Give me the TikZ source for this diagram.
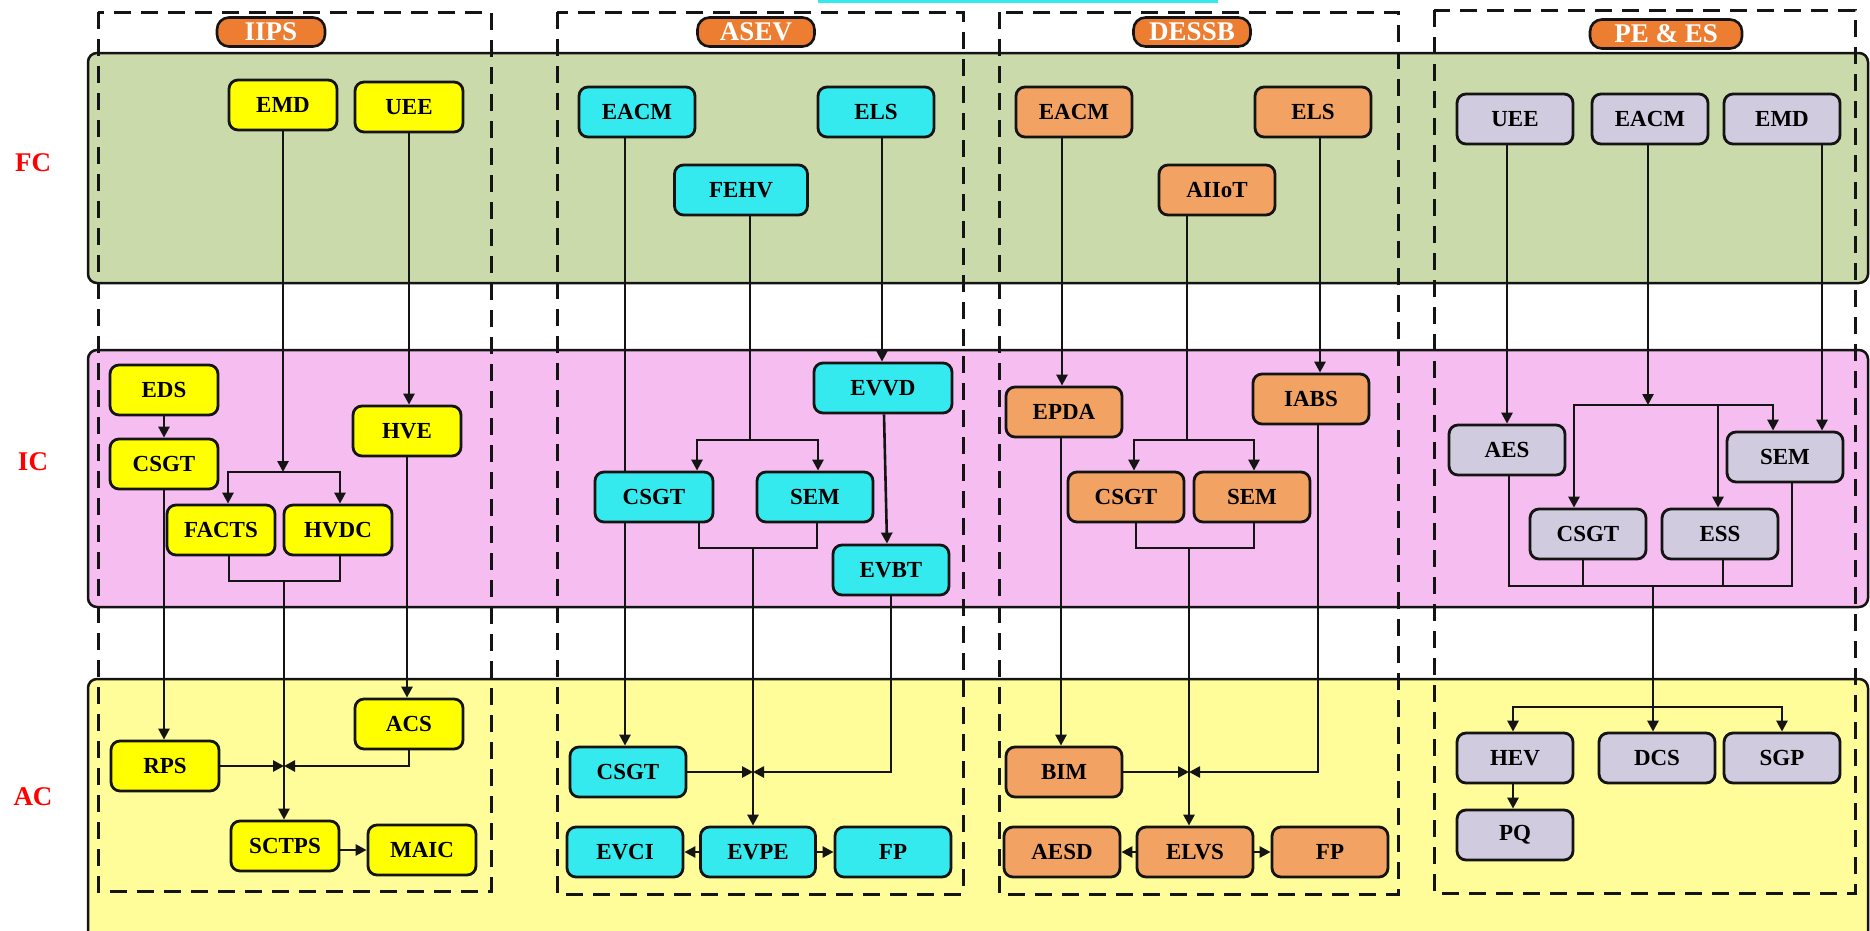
\documentclass[tikz,border=0pt]{standalone}
\usepackage{fontspec}
\setmainfont{Liberation Serif}
\usetikzlibrary{arrows.meta}
\definecolor{bandG}{RGB}{203,218,171}
\definecolor{bandP}{RGB}{245,189,240}
\definecolor{bandY}{RGB}{255,253,153}
\definecolor{nY}{RGB}{255,255,0}
\definecolor{nC}{RGB}{52,234,238}
\definecolor{nO}{RGB}{242,162,98}
\definecolor{nL}{RGB}{208,203,222}
\definecolor{hdr}{RGB}{237,125,49}
\definecolor{ink}{RGB}{20,20,20}
\pgfdeclarelayer{back}
\pgfdeclarelayer{mid}
\pgfsetlayers{back,mid,main}
\tikzset{
 box/.style={draw=ink, line width=2.8pt, rounded corners=9pt, minimum height=50pt, minimum width=116pt, inner sep=0pt, font=\fontsize{23}{23}\selectfont\bfseries},
 yb/.style={box, fill=nY, minimum width=108pt},
 cb/.style={box, fill=nC},
 ob/.style={box, fill=nO},
 lb/.style={box, fill=nL},
 hdrbox/.style={draw=ink, line width=2.6pt, fill=hdr, rounded corners=12pt, minimum height=29pt, inner sep=0pt, text=white, font=\fontsize{27}{27}\selectfont\bfseries},
 rowlab/.style={text=red, font=\fontsize{27}{27}\selectfont\bfseries},
 band/.style={draw=ink, line width=2.5pt, rounded corners=9pt},
 col/.style={draw=ink, line width=3pt, dash pattern=on 17pt off 10pt},
 con/.style={draw=ink, line width=2.6pt},
 arr/.style={con, -{Triangle[length=11pt,width=11pt]}},
}
\begin{document}
\begin{tikzpicture}[x=1pt,y=-1pt]
\useasboundingbox (0,0) rectangle (1870,930);

% headers
\node[hdrbox, minimum width=108pt] (hIIPS) at (271,32) {IIPS};
\node[hdrbox, minimum width=117pt] (hASEV) at (756,32) {ASEV};
\node[hdrbox, minimum width=117pt] (hDESSB) at (1192,32) {DESSB};
\node[hdrbox, minimum width=152pt] (hPE) at (1666,34) {PE \& ES};

% row labels
\node[rowlab] (FC) at (33,163) {FC};
\node[rowlab] (IC) at (33,462) {IC};
\node[rowlab] (AC) at (33,797) {AC};

% IIPS
\node[yb] (EMD1) at (283,105) {EMD};
\node[yb] (UEE1) at (409,107) {UEE};
\node[yb] (EDS1) at (164,390) {EDS};
\node[yb] (CSGT1) at (164,464) {CSGT};
\node[yb] (FACTS1) at (221,530) {FACTS};
\node[yb] (HVDC1) at (338,530) {HVDC};
\node[yb] (HVE1) at (407,431) {HVE};
\node[yb] (RPS1) at (165,766) {RPS};
\node[yb] (ACS1) at (409,724) {ACS};
\node[yb] (SCTPS1) at (285,846) {SCTPS};
\node[yb] (MAIC1) at (422,850) {MAIC};

% ASEV
\node[cb] (EACM2) at (637,112) {EACM};
\node[cb] (ELS2) at (876,112) {ELS};
\node[cb, minimum width=133pt] (FEHV2) at (741,190) {FEHV};
\node[cb, minimum width=138pt] (EVVD2) at (883,388) {EVVD};
\node[cb, minimum width=118pt] (CSGT2) at (654,497) {CSGT};
\node[cb] (SEM2) at (815,497) {SEM};
\node[cb] (EVBT2) at (891,570) {EVBT};
\node[cb] (CSGT3) at (628,772) {CSGT};
\node[cb] (EVCI2) at (625,852) {EVCI};
\node[cb, minimum width=115pt] (EVPE2) at (758,852) {EVPE};
\node[cb] (FP2) at (893,852) {FP};

% DESSB
\node[ob] (EACM3) at (1074,112) {EACM};
\node[ob] (ELS3) at (1313,112) {ELS};
\node[ob] (AIIOT3) at (1217,190) {AIIoT};
\node[ob] (EPDA3) at (1064,412) {EPDA};
\node[ob] (IABS3) at (1311,399) {IABS};
\node[ob] (CSGT4) at (1126,497) {CSGT};
\node[ob] (SEM3) at (1252,497) {SEM};
\node[ob] (BIM3) at (1064,772) {BIM};
\node[ob] (AESD3) at (1062,852) {AESD};
\node[ob] (ELVS3) at (1195,852) {ELVS};
\node[ob] (FP3) at (1330,852) {FP};

% PE & ES
\node[lb] (UEE4) at (1515,119) {UEE};
\node[lb] (EACM4) at (1650,119) {EACM};
\node[lb] (EMD4) at (1782,119) {EMD};
\node[lb] (AES4) at (1507,450) {AES};
\node[lb] (SEM4) at (1785,457) {SEM};
\node[lb] (CSGT5) at (1588,534) {CSGT};
\node[lb] (ESS4) at (1720,534) {ESS};
\node[lb] (HEV4) at (1515,758) {HEV};
\node[lb] (DCS4) at (1657,758) {DCS};
\node[lb] (SGP4) at (1782,758) {SGP};
\node[lb] (PQ4) at (1515,835) {PQ};

% junctions
\coordinate (jA) at (283,472);
\coordinate (jB) at (284,581);
\coordinate (jD) at (750,440);
\coordinate (jE) at (753,548);
\coordinate (jF) at (1187,440);
\coordinate (jG) at (1189,548);
\coordinate (jH) at (1648,405);
\coordinate (jI) at (1653,586);
\coordinate (jJ) at (1653,707);

\begin{pgfonlayer}{back}
\fill[nC] (818,0) rectangle (1218,2.5);
\path[band, fill=bandG] (88,53) rectangle (1868,283);
\path[band, fill=bandP] (88,350) rectangle (1868,607);
\path[band, fill=bandY] (88,679) rectangle (1868,950);
\path[col] (98,12) rectangle (491,891);
\path[col] (557,12) rectangle (963,894);
\path[col] (999,12) rectangle (1398,894);
\path[col] (1434,10) rectangle (1855,893);
\end{pgfonlayer}

\begin{pgfonlayer}{mid}
% IIPS
\draw[arr] (EMD1.south) -- (jA);
\draw[arr] (jA) -| ([xshift=7pt]FACTS1.north);
\draw[arr] (jA) -| ([xshift=2pt]HVDC1.north);
\draw[con] ([xshift=8pt]FACTS1.south) |- (jB) -| ([xshift=2pt]HVDC1.south);
\draw[arr] (jB) -- (jB |- SCTPS1.north);
\draw[arr] (EDS1) -- (CSGT1);
\draw[arr] (CSGT1.south) -- (CSGT1.south |- RPS1.north);
\draw[arr] (UEE1.south) -- (UEE1.south |- HVE1.north);
\draw[arr] (HVE1.south) -- (HVE1.south |- ACS1.north);
\draw[arr] (RPS1.east) -- (RPS1.east -| jB);
\draw[arr] (ACS1.south) |- (jB |- RPS1.east);
\draw[arr] (SCTPS1.east |- MAIC1.west) -- (MAIC1.west);
% ASEV
\draw[arr] ([xshift=-12pt]EACM2.south) -- ([xshift=-12pt]EACM2.south |- CSGT3.north);
\draw[con] ([xshift=9pt]FEHV2.south) -- (jD);
\draw[arr] (jD) -| ([xshift=43pt]CSGT2.north);
\draw[arr] (jD) -| ([xshift=3pt]SEM2.north);
\draw[con] ([xshift=45pt]CSGT2.south) |- (jE) -| ([xshift=2pt]SEM2.south);
\draw[arr] (jE) -- (jE |- EVPE2.north);
\draw[arr] (CSGT3.east) -- (CSGT3.east -| jE);
\draw[arr] (EVBT2.south) |- (jE |- CSGT3.east);
\draw[arr] ([xshift=6pt]ELS2.south) -- ([xshift=6pt]ELS2.south |- EVVD2.north);
\draw[arr] ([xshift=1pt]EVVD2.south) -- ([xshift=-4pt]EVBT2.north);
\draw[arr] (EVPE2) -- (EVCI2);
\draw[arr] (EVPE2) -- (FP2);
% DESSB
\draw[arr] ([xshift=-12pt]EACM3.south) -- ([xshift=-12pt]EACM3.south |- EPDA3.north);
\draw[arr] ([xshift=-3pt]EPDA3.south) -- ([xshift=-3pt]EPDA3.south |- BIM3.north);
\draw[con] ([xshift=-30pt]AIIOT3.south) -- (jF);
\draw[arr] (jF) -| ([xshift=8pt]CSGT4.north);
\draw[arr] (jF) -| ([xshift=2pt]SEM3.north);
\draw[con] ([xshift=10pt]CSGT4.south) |- (jG) -| ([xshift=2pt]SEM3.south);
\draw[arr] (jG) -- (jG |- ELVS3.north);
\draw[arr] (BIM3.east) -- (BIM3.east -| jG);
\draw[arr] ([xshift=7pt]ELS3.south) -- ([xshift=7pt]ELS3.south |- IABS3.north);
\draw[arr] ([xshift=7pt]IABS3.south) |- (jG |- BIM3.east);
\draw[arr] (ELVS3) -- (AESD3);
\draw[arr] (ELVS3) -- (FP3);
% PE & ES
\draw[arr] ([xshift=-8pt]UEE4.south) -- ([xshift=-8pt]UEE4.south |- AES4.north);
\draw[arr] ([xshift=-2pt]EACM4.south) -- (jH);
\draw[arr] (jH) -| ([xshift=-14pt]CSGT5.north);
\draw[arr] (jH) -| ([xshift=-12pt]SEM4.north);
\draw[arr] (jH) -| ([xshift=-2pt]ESS4.north);
\draw[arr] ([xshift=40pt]EMD4.south) -- ([xshift=40pt]EMD4.south |- SEM4.north);
\draw[con] ([xshift=2pt]AES4.south) |- (jI) -| ([xshift=7pt]SEM4.south);
\draw[con] ([xshift=-5pt]CSGT5.south) -- ([xshift=-5pt]CSGT5.south |- jI);
\draw[con] ([xshift=3pt]ESS4.south) -- ([xshift=3pt]ESS4.south |- jI);
\draw[arr] (jI) -- (jI |- DCS4.north);
\draw[arr] (jJ) -| ([xshift=-2pt]HEV4.north);
\draw[arr] (jJ) -| (SGP4.north);
\draw[arr] ([xshift=-2pt]HEV4.south) -- ([xshift=-2pt]PQ4.north);
\end{pgfonlayer}
\end{tikzpicture}
\end{document}
